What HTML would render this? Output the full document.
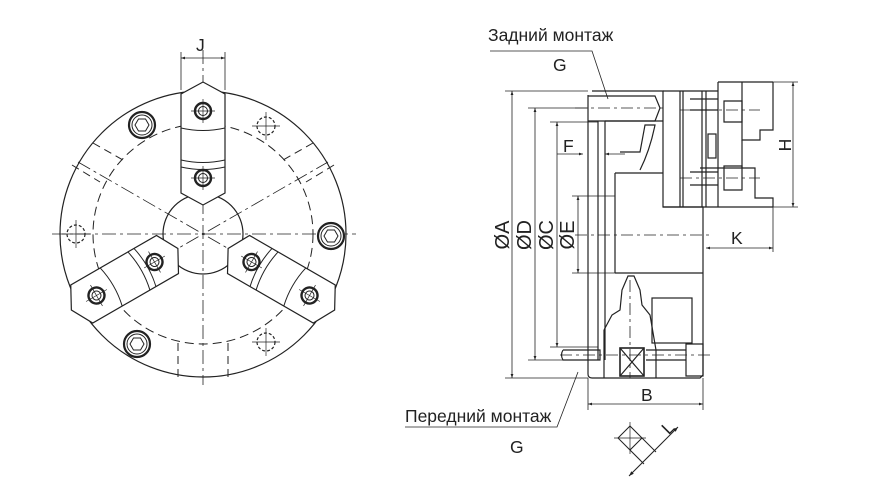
<!DOCTYPE html>
<html><head><meta charset="utf-8"><style>
html,body{margin:0;padding:0;background:#fff}
svg{display:block}
text{font-family:"Liberation Sans",sans-serif;fill:#222}
</style></head><body>
<svg width="870" height="493" viewBox="0 0 870 493" xmlns="http://www.w3.org/2000/svg">
<defs>
<marker id="ar" viewBox="0 0 10 10" refX="10" refY="5" markerWidth="7" markerHeight="5" orient="auto-start-reverse"><path d="M0,1.5 L10,5 L0,8.5 z" fill="#222"/></marker>
<g id="bolt"><circle r="8" fill="#fff" stroke="#222" stroke-width="2.4"/><circle r="4.5" fill="none" stroke="#222" stroke-width="1"/><line x1="-12" y1="0" x2="12" y2="0" stroke="#222" stroke-width="0.7"/><line x1="0" y1="-12" x2="0" y2="12" stroke="#222" stroke-width="0.7"/></g>
<g id="mbolt"><circle r="13" fill="#fff" stroke="#222" stroke-width="2.2"/><circle r="10" fill="none" stroke="#222" stroke-width="1"/><polygon points="7,0 3.5,6 -3.5,6 -7,0 -3.5,-6 3.5,-6" fill="none" stroke="#222" stroke-width="1"/></g>
<g id="dbolt"><circle r="9" fill="none" stroke="#222" stroke-width="1.2" stroke-dasharray="3,2"/><line x1="-14" y1="0" x2="14" y2="0" stroke="#222" stroke-width="0.7"/><line x1="0" y1="-14" x2="0" y2="14" stroke="#222" stroke-width="0.7"/></g>
<g id="jaw"><polygon points="-22,-41 -22,-140 0,-152 22,-140 22,-41 0,-29" fill="#fff" stroke="#222" stroke-width="1.2"/><path d="M-22,-106 Q0,-101 22,-106 M-22,-74 Q0,-69 22,-74 M-22,-67 Q0,-62 22,-67" fill="none" stroke="#222" stroke-width="1"/><use href="#bolt" x="0" y="-123"/><use href="#bolt" x="0" y="-56"/></g>
</defs>
<g stroke="#222" fill="none" stroke-width="1.2">
<circle cx="203" cy="234" r="143"/>
<circle cx="203" cy="234" r="110" stroke-dasharray="9,5" stroke-width="1"/>
<circle cx="203" cy="234" r="40" fill="#fff"/>
<g stroke-width="0.8" stroke-dasharray="14,4,3,4">
<line x1="52" y1="234" x2="356" y2="234"/><line x1="203" y1="50" x2="203" y2="385"/>
<line x1="78" y1="162" x2="328" y2="306"/><line x1="78" y1="306" x2="328" y2="162"/>
</g>
<g stroke-dasharray="8,5" stroke-width="1">
<line x1="178" y1="343" x2="178" y2="377"/><line x1="228" y1="343" x2="228" y2="377"/>
<line x1="93" y1="143" x2="123" y2="160"/><line x1="72" y1="165" x2="100" y2="182"/>
<line x1="313" y1="143" x2="283" y2="160"/><line x1="334" y1="165" x2="306" y2="182"/>
</g>
<g transform="translate(203,234)"><use href="#jaw"/><use href="#jaw" transform="rotate(120)"/><use href="#jaw" transform="rotate(240)"/></g>
<use href="#mbolt" x="142" y="125"/><use href="#mbolt" x="331" y="236"/><use href="#mbolt" x="137" y="344"/>
<use href="#dbolt" x="266" y="126"/><use href="#dbolt" x="76" y="234"/><use href="#dbolt" x="266" y="342"/>
<line x1="181" y1="52" x2="181" y2="90" stroke-width="0.8"/><line x1="225" y1="52" x2="225" y2="90" stroke-width="0.8"/>
<line x1="181" y1="58" x2="225" y2="58" stroke-width="0.8" marker-start="url(#ar)" marker-end="url(#ar)"/>

<path d="M592,91 L663,91 L663,207 L703,207 L703,273 M588,95 L588,374 Q588,378 592,378 L700,378 L703,375 L703,273 Q703,273 700,273 L615,273"/>
<line x1="663" y1="91" x2="718" y2="91"/>
<path d="M718,82 L718,207 M718,82 L773,82 M663,207 L773,207"/>
<path d="M773,82 L773,130 L760,130 L760,140 L742,140 L742,82"/>
<path d="M742,140 L742,168 L755,168 L755,198 L773,198 L773,207"/>
<path d="M742,168 L700,168 M680,91 L680,207 M683,91 L683,207 M702,91 L702,207 M706,91 L706,207"/>
<rect x="708" y="134" width="8" height="24"/>
<path d="M588,96 L655,96 L660,108 L655,121 L588,121 M598,121 L598,360 M605,121 L605,360 M615,173 L615,273 M615,173 L663,173"/>
<path d="M605,121 L663,121 M620,152 L640,152 L645,125 L655,125 Q650,150 640,170"/>
<path d="M604,330 L612,315 L620,310 L622,290 L628,276 L634,276 L640,290 L642,305 L650,315 L656,350 L656,378 M604,330 L604,378"/>
<rect x="652" y="298" width="40" height="45"/>
<rect x="620" y="348" width="24" height="28" stroke-width="1.6"/>
<path d="M620,348 L644,376 M644,348 L620,376"/>
<path d="M563,350 L600,350 L600,360 L563,360 Q560,355 563,350 M646,350 L686,350 M646,360 L686,360 M686,344 L703,344 L703,376 L686,376 Z"/>
<path d="M690,99 L718,99 M690,110 L718,110 M724,101 L742,101 L742,122 L724,122 Z M690,172 L718,172 M690,185 L718,185 M724,166 L742,166 L742,190 L724,190 Z"/>
<g stroke-width="0.8" stroke-dasharray="12,4,3,4">
<line x1="575" y1="235" x2="712" y2="235"/><line x1="575" y1="108" x2="665" y2="108"/><line x1="560" y1="355" x2="710" y2="355"/><line x1="680" y1="110" x2="760" y2="110"/><line x1="680" y1="178" x2="760" y2="178"/><line x1="630" y1="280" x2="630" y2="378"/>
</g>
<g stroke-width="0.8">
<line x1="505" y1="91" x2="588" y2="91"/><line x1="505" y1="378" x2="588" y2="378"/>
<line x1="528" y1="108" x2="588" y2="108"/><line x1="528" y1="360" x2="600" y2="360"/>
<line x1="550" y1="122" x2="598" y2="122"/><line x1="550" y1="347" x2="598" y2="347"/>
<line x1="572" y1="196" x2="615" y2="196"/><line x1="572" y1="273" x2="615" y2="273"/>
<line x1="512" y1="91" x2="512" y2="378" marker-start="url(#ar)" marker-end="url(#ar)"/>
<line x1="535" y1="108" x2="535" y2="360" marker-start="url(#ar)" marker-end="url(#ar)"/>
<line x1="557" y1="122" x2="557" y2="347" marker-start="url(#ar)" marker-end="url(#ar)"/>
<line x1="578" y1="196" x2="578" y2="273" marker-start="url(#ar)" marker-end="url(#ar)"/>
<line x1="557" y1="154" x2="583" y2="154" marker-end="url(#ar)"/><line x1="625" y1="154" x2="605" y2="154" marker-end="url(#ar)"/>
<line x1="745" y1="82" x2="798" y2="82"/><line x1="773" y1="207" x2="798" y2="207"/>
<line x1="793" y1="82" x2="793" y2="207" marker-start="url(#ar)" marker-end="url(#ar)"/>
<line x1="773" y1="207" x2="773" y2="252"/>
<line x1="706" y1="248" x2="773" y2="248" marker-start="url(#ar)" marker-end="url(#ar)"/>
<line x1="588" y1="378" x2="588" y2="410"/><line x1="703" y1="378" x2="703" y2="410"/>
<line x1="588" y1="404" x2="703" y2="404" marker-start="url(#ar)" marker-end="url(#ar)"/>
<path d="M490,51 L592,51 L608,99"/>
<path d="M405,427 L557,427 L578,372"/>
</g>
<g stroke-width="1">
<polygon points="630,426 642,438 630,450 618,438"/>
<line x1="614" y1="438" x2="646" y2="438" stroke-width="0.7"/><line x1="630" y1="422" x2="630" y2="454" stroke-width="0.7"/>
<line x1="642" y1="438" x2="656" y2="452"/><line x1="630" y1="450" x2="644" y2="464"/>
<line x1="629" y1="476" x2="678" y2="427" marker-start="url(#ar)" marker-end="url(#ar)"/>
</g>
</g>
<g font-size="17.5">
<text x="196" y="51">J</text>
<text x="488" y="41">Задний монтаж</text>
<text x="553" y="71">G</text>
<text x="405" y="422">Передний монтаж</text>
<text x="510" y="453">G</text>
<text x="563" y="152">F</text>
<text x="731" y="244">K</text>
<text x="641" y="401">B</text>
<text transform="translate(791,145) rotate(-90)" text-anchor="middle">H</text>
<text transform="translate(672,432) rotate(-45)" text-anchor="middle">L</text>
<g font-size="20" text-anchor="middle">
<text transform="translate(509,235) rotate(-90)">ØA</text>
<text transform="translate(531,235) rotate(-90)">ØD</text>
<text transform="translate(553,235) rotate(-90)">ØC</text>
<text transform="translate(574,235) rotate(-90)">ØE</text>
</g>
</g>
</svg>
</body></html>
